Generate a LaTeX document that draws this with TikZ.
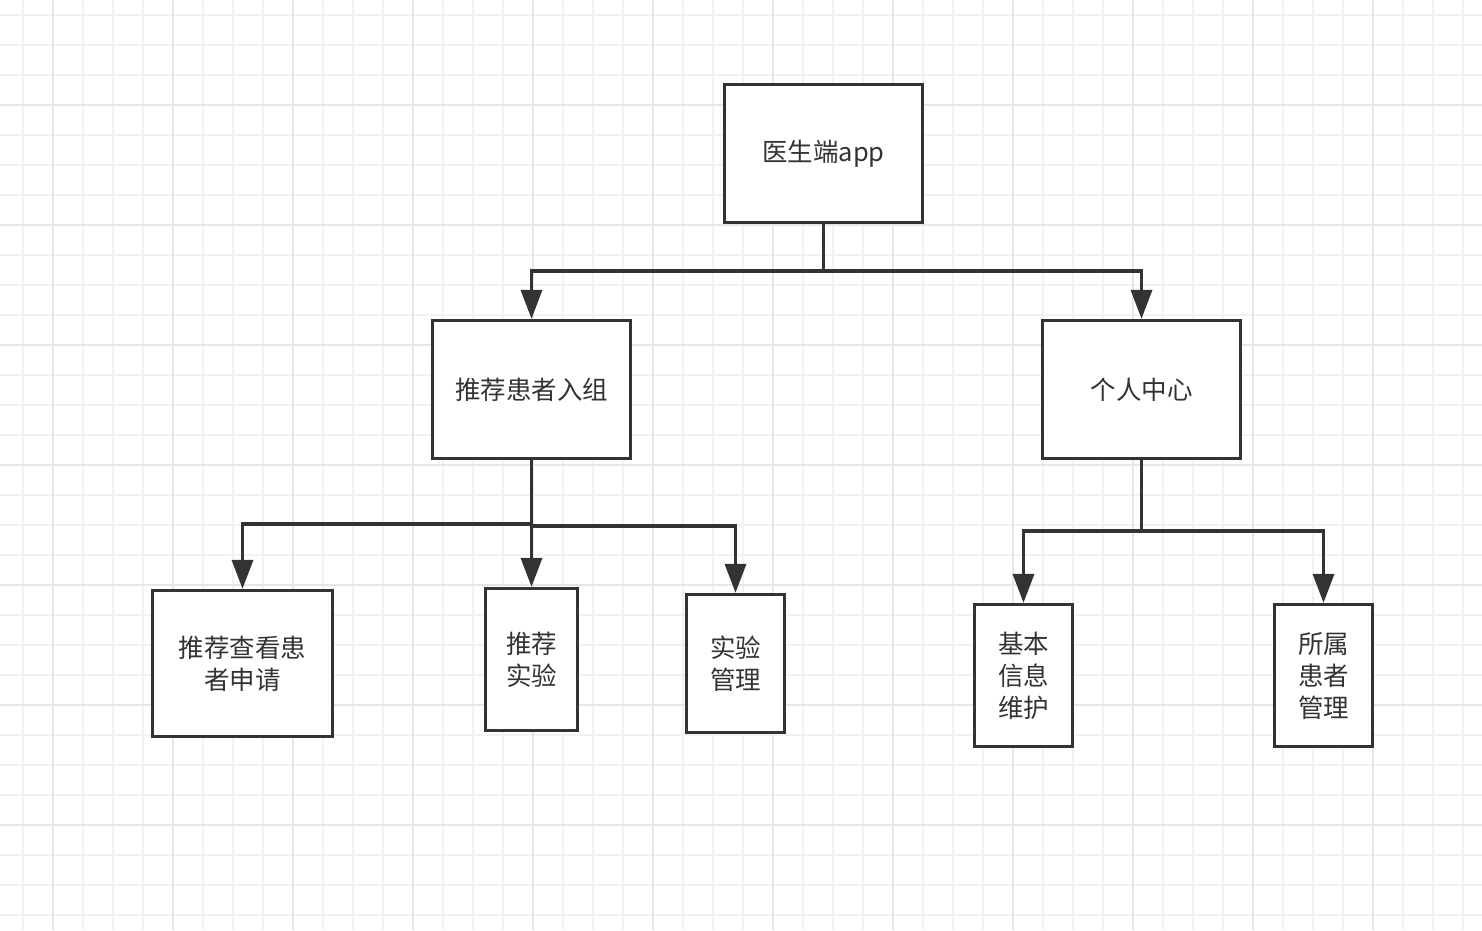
\documentclass[tikz,border=0pt]{standalone}
\usepackage{fontspec}
\setmainfont{Noto Sans CJK SC}
\usetikzlibrary{arrows.meta}
\definecolor{ink}{HTML}{333333}
\definecolor{gridlo}{HTML}{F2F2F2}
\definecolor{gridhi}{HTML}{E6E6E6}
\begin{document}
\begin{tikzpicture}[x=1pt, y=-1pt,
  box/.style={draw=ink, line width=3.3pt, fill=white, text=ink, align=center,
    font=\fontsize{25.5pt}{32pt}\selectfont, inner sep=0pt},
  conn/.style={draw=ink, line width=3.5pt, -{Triangle[width=21pt, length=29pt]}},
  gridminor/.style={draw=gridlo, line width=1.5pt},
  gridmajor/.style={draw=gridhi, line width=1.8pt}]
  \useasboundingbox[fill=white] (0,0) rectangle (1482,930);
  % background grid
  \foreach \x in {23,53,...,1463} \draw[gridminor] (\x,0) -- (\x,930);
  \foreach \y in {15,45,...,915} \draw[gridminor] (0,\y) -- (1482,\y);
  \foreach \x in {53,173,...,1373} \draw[gridmajor] (\x,0) -- (\x,930);
  \foreach \y in {105,225,...,825} \draw[gridmajor] (0,\y) -- (1482,\y);
  % boxes
  \node[box, minimum width=198, minimum height=138] (root) at (823.5,153.5) {医生端app};
  \node[box, minimum width=198, minimum height=138] (rec) at (531.5,389.5) {推荐患者入组};
  \node[box, minimum width=198, minimum height=138] (mine) at (1141.5,389.5) {个人中心};
  \node[box, minimum width=180, minimum height=146] (apply) at (242.5,663.5) {推荐查看患\\者申请};
  \node[box, minimum width=92, minimum height=142] (trial) at (531.5,659.5) {推荐\\实验};
  \node[box, minimum width=98, minimum height=138] (trialmgt) at (735.5,663.5) {实验\\管理};
  \node[box, minimum width=98, minimum height=142] (info) at (1023.5,675.5) {基本\\信息\\维护};
  \node[box, minimum width=98, minimum height=142] (patmgt) at (1323.5,675.5) {所属\\患者\\管理};
  % junctions
  \coordinate (j0) at (823.5,271);
  \coordinate (j1a) at (531.5,524);
  \coordinate (j1b) at (531.5,526);
  \coordinate (j2) at (1141.5,531);
  % connectors
  \draw[conn] (root.south) -- (j0) -| (rec.north);
  \draw[conn] (root.south) -- (j0) -| (mine.north);
  \draw[conn] (rec.south) -- (j1a) -| (apply.north);
  \draw[conn] (rec.south) -- (trial.north);
  \draw[conn] (rec.south) -- (j1b) -| (trialmgt.north);
  \draw[conn] (mine.south) -- (j2) -| (info.north);
  \draw[conn] (mine.south) -- (j2) -| (patmgt.north);
\end{tikzpicture}
\end{document}
